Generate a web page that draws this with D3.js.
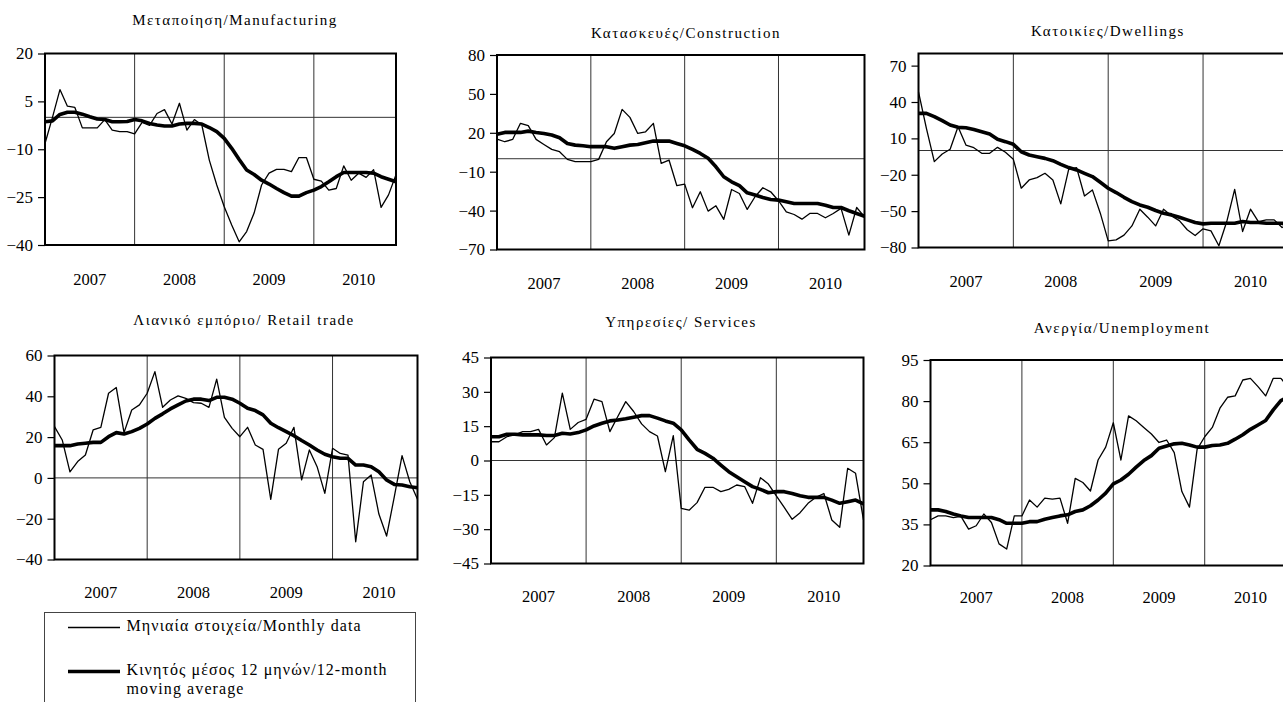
<!DOCTYPE html>
<html>
<head>
<meta charset="utf-8">
<script src="https://cdn.jsdelivr.net/npm/d3@7"></script>
<style>
  html, body { margin: 0; padding: 0; background: #fff; }
  svg { display: block; }
  svg text { font-family: "Liberation Serif", "Times New Roman", Times, Tinos, "DejaVu Serif", serif !important; fill: #000; }
</style>
</head>
<body>
<svg id="chart" width="1283" height="702"></svg>
<script>
// ---------------- DATA ----------------
const years = ["2007", "2008", "2009", "2010"];
const monthsPerYear = 12;

const titles = [
  "Μεταποίηση/Manufacturing",
  "Κατασκευές/Construction",
  "Κατοικίες/Dwellings",
  "Λιανικό εμπόριο/ Retail trade",
  "Υπηρεσίες/ Services",
  "Ανεργία/Unemployment"
];

const ticksManuf = [-40, -25, -10, 5, 20];
const ticksConstr = [-70, -40, -10, 20, 50, 80];
const ticksDwell = [-80, -50, -20, 10, 40, 70];
const ticksRetail = [-40, -20, 0, 20, 40, 60];
const ticksServ = [-45, -30, -15, 0, 15, 30, 45];
const ticksUnemp = [20, 35, 50, 65, 80, 95];

const manufMonthly = [-8.2, 0, 8.7, 3.5, 3.1, -3.3, -3.3, -3.3, -0.7, -4, -4.5, -4.5,
  -5.2, -1.6, -2.5, 1.2, 2.4, -2.1, 4.4, -4, -0.7, -2.4, -13.4, -21.2,
  -28, -33.7, -39, -35.8, -30, -21.2, -17.5, -16.3, -16.3, -17, -12.6, -12.6,
  -19.4, -20, -22.8, -22.3, -15.2, -19.7, -17.5, -18.8, -16.4, -28.2, -24.3, -18];
const manufMA = [-1.4, -1.1, 0.9, 1.6, 1.6, 1, 0.2, -0.5, -0.7, -1.4, -1.4, -1.3,
  -0.7, -1.1, -1.9, -2.4, -2.7, -2.7, -2.1, -1.9, -1.9, -2.1, -3.2, -4.5,
  -6.6, -9.7, -13.2, -16.5, -17.9, -19.7, -20.9, -22.3, -23.6, -24.7, -24.7, -23.6,
  -22.8, -21.7, -20.2, -18.6, -17.3, -17.3, -17.3, -17.3, -17.5, -18.6, -19.4, -20.2];

const constrMonthly = [15.2, 13.1, 14.9, 27.3, 25.5, 14.9, 11, 7.2, 5.4, -0.5, -2.3, -2.3,
  -2.3, -0.5, 13.1, 19.5, 38.1, 31.9, 19.5, 20.8, 27.3, -3.6, -1, -20.8,
  -19.6, -37.8, -25.5, -40.4, -36.3, -46.8, -23.7, -26.8, -39.1, -29.3, -22.4, -25.5,
  -32.4, -40.9, -43, -46.6, -42.2, -42.2, -45.5, -42.2, -38.3, -58.9, -37.6, -44.8];
const constrMA = [18.8, 20.3, 20.3, 20.3, 21.3, 20.3, 19.5, 18.3, 16.2, 11.8, 10.5, 10,
  9.3, 9.3, 9.3, 8, 9.3, 10.5, 11, 12.3, 13.6, 13.6, 13.6, 11.8,
  10, 7.2, 4.1, 0.3, -6.2, -13.9, -17.8, -20.8, -26.3, -28, -29.9, -31.4,
  -31.9, -33.2, -34.5, -34.5, -34.5, -34.5, -35.8, -37.6, -37.6, -40.1, -42.2, -44.3];

const dwellMonthly = [48.4, 18.3, -9.2, -2.9, 1, 19.6, 4.5, 2.3, -2.3, -2.3, 2.6, -1.5,
  -7.3, -31.1, -24.3, -22.4, -18.8, -24.3, -44, -15.5, -14.1, -37.5, -32.5, -51.7,
  -74.5, -73.7, -69.8, -62.2, -48.4, -55, -62.2, -48.4, -53.9, -57.8, -65.4, -70.1,
  -64.6, -66.3, -78.6, -58.6, -32, -66.8, -48.4, -58.6, -57.2, -57.2, -63.5, -60];
const dwellMA = [30.6, 30.6, 27.9, 24.6, 21, 19.1, 18.8, 17.4, 15.5, 13.6, 9.2, 7.3,
  5.1, -1, -3.7, -5.1, -6.5, -8.4, -11.4, -14.1, -16, -18.8, -21.5, -26.2,
  -31.1, -34.7, -38.6, -42.1, -44.9, -46.8, -49.5, -51.7, -53.1, -55, -57.2, -59.4,
  -60.5, -60, -60, -60, -60, -58.6, -59.4, -59.4, -60, -60, -60, -62.7];

const retailMonthly = [25.1, 18.6, 3, 8, 11.2, 23.5, 24.8, 41.5, 44.3, 22.2, 33.3, 35.8,
  41.5, 52.1, 34.6, 38.2, 40.2, 39, 36.9, 36.6, 34.6, 48.4, 29.7, 24.3,
  20.2, 24.8, 16.1, 14, -10.5, 14, 17, 24.8, -1, 13.7, 5.5, -7.6,
  14.5, 12, 11.2, -31.3, -1.9, 1.4, -17.7, -28.5, -9.2, 10.9, -1.9, -10.5];
const retailMA = [15.8, 15.8, 15.8, 16.6, 17, 17.4, 17.4, 20.2, 22.2, 21.5, 22.7, 24.3,
  26.4, 29.2, 31.4, 33.8, 35.8, 37.7, 38.6, 38.6, 37.9, 39.5, 39.5, 38.6,
  36.6, 34.1, 33, 30.9, 26.8, 24.6, 22.7, 20.7, 18.3, 16.1, 13.7, 11.6,
  10.4, 9.6, 9.6, 6.3, 6.3, 5.5, 3, -1, -3.2, -3.5, -4.3, -4.8];

const servMonthly = [8.2, 8.2, 10.4, 11.2, 12.6, 12.6, 13.6, 6.8, 10, 29.4, 13.6, 16.6,
  18, 26.8, 25.7, 12.6, 19.2, 25.7, 21.4, 16, 12.6, 10.7, -4.9, 10.9,
  -20.9, -21.7, -18.4, -11.7, -11.7, -13.6, -12.6, -10.7, -11.4, -18.7, -7.5, -10.3,
  -15.5, -20.5, -25.7, -22.8, -18.7, -16.1, -14.4, -26, -29.2, -3.4, -5.6, -26];
const servMA = [10.4, 10.4, 11.5, 11.5, 11.2, 11.2, 11.2, 10.9, 10.9, 11.9, 11.6, 12.2,
  13.4, 15.1, 16.3, 17.3, 17.7, 18.2, 18.9, 19.6, 19.6, 18.5, 17.3, 16.3,
  13.4, 9, 4.9, 3.1, 1, -2, -4.9, -7.1, -9.3, -11.4, -12.6, -14.1,
  -13.6, -13.6, -14.4, -15.4, -16.1, -16.1, -16.1, -17.3, -18.7, -18, -17.3, -19];

const unempMonthly = [36.7, 38.1, 38.1, 37.5, 37.9, 33.3, 34.5, 38.8, 35.7, 27.9, 26, 38.1,
  38.1, 43.9, 41.3, 44.6, 44.2, 44.6, 35.4, 51.8, 50.3, 47.2, 58.5, 63.2,
  72.1, 58.5, 74.6, 72.8, 70.4, 68, 64.9, 65.8, 61.2, 47, 41.3, 62.4,
  67, 70.4, 77.4, 81.4, 81.9, 87.7, 88.3, 85.3, 81.9, 88.3, 88.3, 85];
const unempMA = [40.3, 40.3, 39.7, 38.8, 38.1, 37.5, 37.5, 37.5, 37.5, 36.7, 35.4, 35.4,
  35.4, 36, 36, 36.9, 37.5, 38.1, 38.5, 39.7, 40.3, 41.8, 43.9, 46.4,
  49.8, 51.2, 53.3, 55.9, 58.3, 60.1, 62.8, 63.6, 64.4, 64.6, 64, 63.2,
  63.2, 63.8, 64, 64.6, 66.1, 67.7, 69.7, 71.3, 72.9, 76.8, 80.2, 81.6];

const legendLabels = ["Μηνιαία στοιχεία/Monthly data", "Κινητός μέσος 12 μηνών/12-month", "moving average"];

// ---------------- LAYOUT ----------------
const FONT = "'Liberation Serif', 'Times New Roman', Times, Tinos, 'DejaVu Serif', serif";
const panels = [
  { title: titles[0], monthly: manufMonthly, ma: manufMA, ticks: ticksManuf, domain: [-40, 20],
    left: 45, right: 396, top: 53.5, bottom: 245, tx: 235, ty: 25, yearY: 285, zero: true },
  { title: titles[1], monthly: constrMonthly, ma: constrMA, ticks: ticksConstr, domain: [-70, 80],
    left: 497, right: 864.5, top: 55, bottom: 249.5, tx: 686, ty: 37.5, yearY: 288.5, zero: true },
  { title: titles[2], monthly: dwellMonthly, ma: dwellMA, ticks: ticksDwell, domain: [-80, 80],
    left: 918.5, right: 1290, top: 53.5, bottom: 247.5, tx: 1108, ty: 36, yearY: 286.5, zero: true },
  { title: titles[3], monthly: retailMonthly, ma: retailMA, ticks: ticksRetail, domain: [-40, 60],
    left: 54.5, right: 417.5, top: 355.5, bottom: 559.5, tx: 244, ty: 325, yearY: 598, zero: true },
  { title: titles[4], monthly: servMonthly, ma: servMA, ticks: ticksServ, domain: [-45, 45],
    left: 491, right: 863.5, top: 357.5, bottom: 563.5, tx: 681, ty: 327, yearY: 601.5, zero: true },
  { title: titles[5], monthly: unempMonthly, ma: unempMA, ticks: ticksUnemp, domain: [20, 95],
    left: 930.5, right: 1288.5, top: 360, bottom: 565.5, tx: 1122, ty: 333, yearY: 603, zero: false }
];

const svg = d3.select("#chart");

panels.forEach(p => {
  const n = p.monthly.length;
  const x = d3.scaleLinear().domain([0, n - 1]).range([p.left, p.right]);
  const y = d3.scaleLinear().domain(p.domain).range([p.bottom, p.top]);
  const g = svg.append("g");

  // title
  g.append("text")
    .attr("x", p.tx).attr("y", p.ty)
    .attr("text-anchor", "middle")
    .attr("font-family", FONT)
    .style("font-size", "15px")
    .style("letter-spacing", "1.5px")
    .text(p.title);

  // vertical year gridlines
  const yearStarts = years.slice(1).map((_, k) => (k + 1) * monthsPerYear);
  g.selectAll("line.vgrid").data(yearStarts).enter().append("line")
    .attr("x1", d => x(d)).attr("x2", d => x(d))
    .attr("y1", p.top).attr("y2", p.bottom)
    .attr("stroke", "#333").attr("stroke-width", 1);

  // zero line
  if (p.zero) {
    g.append("line")
      .attr("x1", p.left).attr("x2", p.right)
      .attr("y1", y(0)).attr("y2", y(0))
      .attr("stroke", "#333").attr("stroke-width", 1);
  }

  // y axis
  const axis = d3.axisLeft(y).tickValues(p.ticks).tickSize(7).tickPadding(5).tickFormat(d3.format("d"));
  const ag = g.append("g").attr("transform", `translate(${p.left},0)`).call(axis);
  ag.attr("font-family", FONT);
  ag.select(".domain").remove();
  ag.selectAll(".tick line").attr("stroke", "#000").attr("stroke-width", 1.2);
  ag.selectAll(".tick text")
    .style("font-size", "17px")
    .attr("fill", "#000");

  // year labels
  g.selectAll("text.year").data(years).enter().append("text")
    .attr("x", (d, k) => x(k * monthsPerYear + 6))
    .attr("y", p.yearY)
    .attr("text-anchor", "middle")
    .attr("font-family", FONT)
    .style("font-size", "16.5px")
    .text(d => d);

  // lines
  const line = d3.line().x((d, i) => x(i)).y(d => y(d));
  g.append("path").datum(p.monthly)
    .attr("d", line).attr("fill", "none")
    .attr("stroke", "#000").attr("stroke-width", 1.3).attr("stroke-linejoin", "round");
  g.append("path").datum(p.ma)
    .attr("d", line).attr("fill", "none")
    .attr("stroke", "#000").attr("stroke-width", 3.6).attr("stroke-linejoin", "round");

  // frame
  g.append("rect")
    .attr("x", p.left).attr("y", p.top)
    .attr("width", p.right - p.left).attr("height", p.bottom - p.top)
    .attr("fill", "none").attr("stroke", "#000").attr("stroke-width", 2);
});

// ---------------- LEGEND ----------------
const lg = svg.append("g");
lg.append("rect")
  .attr("x", 44.5).attr("y", 612.5).attr("width", 371).attr("height", 120)
  .attr("fill", "none").attr("stroke", "#444").attr("stroke-width", 1);
lg.append("line").attr("x1", 68).attr("x2", 120).attr("y1", 627.5).attr("y2", 627.5)
  .attr("stroke", "#000").attr("stroke-width", 1.5);
lg.append("line").attr("x1", 68).attr("x2", 120).attr("y1", 671.5).attr("y2", 671.5)
  .attr("stroke", "#000").attr("stroke-width", 3.6);
[[630.5, legendLabels[0]], [675, legendLabels[1]], [694, legendLabels[2]]].forEach(([yy, t]) => {
  lg.append("text").attr("x", 126.5).attr("y", yy)
    .attr("font-family", FONT)
    .style("font-size", "16px").style("letter-spacing", "1.1px").text(t);
});
</script>
</body>
</html>
